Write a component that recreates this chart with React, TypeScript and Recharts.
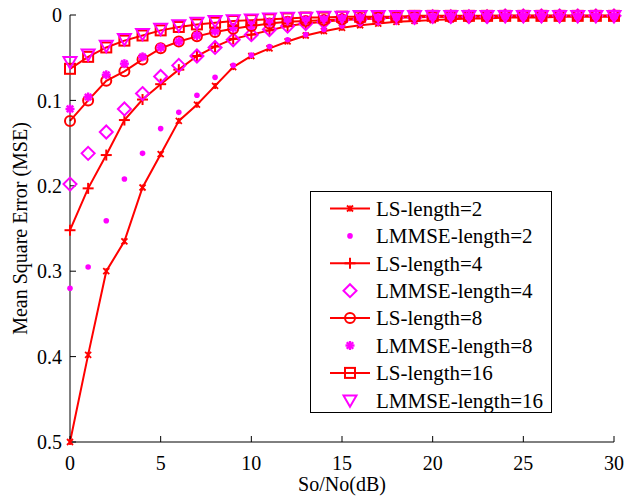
import { LineChart, Line, XAxis, YAxis, Legend } from 'recharts';

// SNR (dB)
const snr = [0, 1, 2, 3, 4, 5, 6, 7, 8, 9, 10, 11, 12, 13, 14, 15, 16, 17, 18, 19, 20, 21, 22, 23, 24, 25, 26, 27, 28, 29, 30];

const lsLen2 = [0.5, 0.398, 0.3, 0.265, 0.202, 0.163, 0.124, 0.105, 0.083, 0.061, 0.048, 0.039, 0.031, 0.024, 0.019, 0.015, 0.012, 0.01, 0.008, 0.007, 0.006, 0.005, 0.004, 0.004, 0.003, 0.003, 0.003, 0.002, 0.002, 0.002, 0.002];
const lmmseLen2 = [0.32, 0.295, 0.241, 0.192, 0.162, 0.133, 0.114, 0.094, 0.073, 0.059, 0.047, 0.037, 0.029, 0.023, 0.017, 0.013, 0.01, 0.008, 0.006, 0.005, 0.004, 0.004, 0.003, 0.003, 0.003, 0.002, 0.002, 0.002, 0.002, 0.002, 0.002];
const lsLen4 = [0.252, 0.203, 0.164, 0.123, 0.099, 0.081, 0.064, 0.048, 0.037, 0.028, 0.023, 0.018, 0.013, 0.01, 0.008, 0.006, 0.005, 0.004, 0.003, 0.003, 0.002, 0.002, 0.002, 0.002, 0.001, 0.001, 0.001, 0.001, 0.001, 0.001, 0.001];
const lmmseLen4 = [0.198, 0.162, 0.137, 0.11, 0.092, 0.072, 0.059, 0.048, 0.038, 0.029, 0.023, 0.017, 0.013, 0.01, 0.008, 0.006, 0.005, 0.004, 0.003, 0.003, 0.002, 0.002, 0.002, 0.002, 0.001, 0.001, 0.001, 0.001, 0.001, 0.001, 0.001];
const lsLen8 = [0.124, 0.1, 0.077, 0.066, 0.052, 0.039, 0.031, 0.025, 0.02, 0.016, 0.013, 0.01, 0.008, 0.007, 0.006, 0.005, 0.004, 0.003, 0.003, 0.002, 0.002, 0.002, 0.002, 0.001, 0.001, 0.001, 0.001, 0.001, 0.001, 0.001, 0.001];
const lmmseLen8 = [0.11, 0.096, 0.07, 0.057, 0.049, 0.038, 0.031, 0.024, 0.019, 0.015, 0.012, 0.009, 0.007, 0.006, 0.005, 0.004, 0.003, 0.003, 0.002, 0.002, 0.002, 0.001, 0.001, 0.001, 0.001, 0.001, 0.001, 0.001, 0.001, 0.001, 0.001];
const lsLen16 = [0.063, 0.049, 0.038, 0.03, 0.024, 0.018, 0.014, 0.011, 0.009, 0.007, 0.006, 0.005, 0.004, 0.003, 0.003, 0.002, 0.002, 0.002, 0.002, 0.001, 0.001, 0.001, 0.001, 0.001, 0.001, 0.001, 0.001, 0.001, 0.001, 0.001, 0.001];
const lmmseLen16 = [0.055, 0.046, 0.036, 0.028, 0.022, 0.016, 0.012, 0.009, 0.007, 0.006, 0.005, 0.004, 0.003, 0.003, 0.002, 0.002, 0.001, 0.001, 0.001, 0.001, 0.001, 0.001, 0.001, 0.001, 0.001, 0.001, 0.001, 0.001, 0.001, 0.001, 0.001];

const xTicks = [0, 5, 10, 15, 20, 25, 30];
const yTicks = [0, 0.1, 0.2, 0.3, 0.4, 0.5];

const RED = '#ff0000';
const MAGENTA = '#ff00ff';
const FONT = '"Liberation Serif", "Times New Roman", serif';

type MarkerKind = 'asterisk' | 'point' | 'plus' | 'diamond' | 'circle' | 'star' | 'square' | 'triangle';

interface SeriesDef {
  key: string;
  name: string;
  color: string;
  marker: MarkerKind;
  line: boolean;
}

const series: SeriesDef[] = [
  { key: 'ls2', name: 'LS-length=2', color: RED, marker: 'asterisk', line: true },
  { key: 'lmmse2', name: 'LMMSE-length=2', color: MAGENTA, marker: 'point', line: false },
  { key: 'ls4', name: 'LS-length=4', color: RED, marker: 'plus', line: true },
  { key: 'lmmse4', name: 'LMMSE-length=4', color: MAGENTA, marker: 'diamond', line: false },
  { key: 'ls8', name: 'LS-length=8', color: RED, marker: 'circle', line: true },
  { key: 'lmmse8', name: 'LMMSE-length=8', color: MAGENTA, marker: 'star', line: false },
  { key: 'ls16', name: 'LS-length=16', color: RED, marker: 'square', line: true },
  { key: 'lmmse16', name: 'LMMSE-length=16', color: MAGENTA, marker: 'triangle', line: false },
];

const data = snr.map((x, i) => ({
  x,
  ls2: lsLen2[i],
  lmmse2: lmmseLen2[i],
  ls4: lsLen4[i],
  lmmse4: lmmseLen4[i],
  ls8: lsLen8[i],
  lmmse8: lmmseLen8[i],
  ls16: lsLen16[i],
  lmmse16: lmmseLen16[i],
}));

function drawMarker(kind: MarkerKind, cx: number, cy: number, color: string) {
  const sw = 2;
  switch (kind) {
    case 'asterisk': {
      const s = 3;
      return (
        <g stroke={color} strokeWidth={1.8}>
          <line x1={cx - s} y1={cy - s} x2={cx + s} y2={cy + s} />
          <line x1={cx - s} y1={cy + s} x2={cx + s} y2={cy - s} />
          <line x1={cx} y1={cy - s} x2={cx} y2={cy + s} />
        </g>
      );
    }
    case 'point':
      return <circle cx={cx} cy={cy} r={2.8} fill={color} stroke="none" />;
    case 'plus': {
      const s = 5.5;
      return (
        <g stroke={color} strokeWidth={sw}>
          <line x1={cx - s} y1={cy} x2={cx + s} y2={cy} />
          <line x1={cx} y1={cy - s} x2={cx} y2={cy + s} />
        </g>
      );
    }
    case 'diamond': {
      const s = 6.5;
      return <polygon points={`${cx},${cy - s} ${cx + s},${cy} ${cx},${cy + s} ${cx - s},${cy}`} fill="none" stroke={color} strokeWidth={sw} />;
    }
    case 'circle':
      return <circle cx={cx} cy={cy} r={5} fill="none" stroke={color} strokeWidth={sw} />;
    case 'star': {
      const s = 4.5;
      const d = s * 0.72;
      return (
        <g stroke={color} strokeWidth={2.4}>
          <line x1={cx - s} y1={cy} x2={cx + s} y2={cy} />
          <line x1={cx} y1={cy - s} x2={cx} y2={cy + s} />
          <line x1={cx - d} y1={cy - d} x2={cx + d} y2={cy + d} />
          <line x1={cx - d} y1={cy + d} x2={cx + d} y2={cy - d} />
        </g>
      );
    }
    case 'square': {
      const s = 5;
      return <rect x={cx - s} y={cy - s} width={2 * s} height={2 * s} fill="none" stroke={color} strokeWidth={sw} />;
    }
    case 'triangle': {
      const s = 6.5;
      return <polygon points={`${cx - s},${cy - s * 0.75} ${cx + s},${cy - s * 0.75} ${cx},${cy + s}`} fill="none" stroke={color} strokeWidth={sw} />;
    }
  }
  return null;
}

const LegendBox = () => (
  <svg width={242} height={222} style={{ display: 'block' }}>
    <rect x={0.5} y={0.5} width={241} height={221} fill="#ffffff" stroke="#000000" strokeWidth={1} />
    {series.map((s, i) => {
      const cy = 17.5 + i * 27.4;
      return (
        <g key={s.key}>
          {s.line && <line x1={20} y1={cy} x2={60} y2={cy} stroke={s.color} strokeWidth={2} />}
          {drawMarker(s.marker, 40, cy, s.color)}
          <text x={66} y={cy} dy="0.35em" fontFamily={FONT} fontSize={21} fill="#000000">
            {s.name}
          </text>
        </g>
      );
    })}
  </svg>
);

export default function App() {
  const tickStyle = { fontFamily: FONT, fontSize: 20, fill: '#000000' };
  return (
    <div style={{ position: 'absolute', left: 0, top: 0, width: 626, height: 497, background: '#ffffff' }}>
      <LineChart width={626} height={497} data={data} margin={{ top: 15, right: 12, bottom: 25, left: 0 }}>
        <XAxis
          dataKey="x"
          type="number"
          domain={[0, 30]}
          ticks={xTicks}
          height={30}
          axisLine={{ stroke: '#000000', strokeWidth: 1 }}
          tickLine={{ stroke: '#000000' }}
          tickSize={-6}
          tickMargin={20}
          tick={tickStyle}
          label={{ value: 'So/No(dB)', position: 'bottom', offset: 5, style: { fontFamily: FONT, fontSize: 20, fill: '#000000' } }}
        />
        <XAxis
          xAxisId="top"
          orientation="top"
          type="number"
          domain={[0, 30]}
          ticks={xTicks}
          height={0}
          axisLine={{ stroke: '#000000', strokeWidth: 1 }}
          tickLine={{ stroke: '#000000' }}
          tickSize={-6}
          tick={false}
        />
        <YAxis
          type="number"
          reversed
          domain={[0, 0.5]}
          ticks={yTicks}
          width={70}
          axisLine={{ stroke: '#000000', strokeWidth: 1 }}
          tickLine={{ stroke: '#000000' }}
          tickSize={-6}
          tickMargin={14}
          tick={tickStyle}
          label={{
            value: 'Mean Square Error (MSE)',
            angle: -90,
            position: 'insideLeft',
            offset: 20,
            style: { fontFamily: FONT, fontSize: 20, fill: '#000000', textAnchor: 'middle' },
          }}
        />
        <YAxis
          yAxisId="right"
          orientation="right"
          type="number"
          reversed
          domain={[0, 0.5]}
          ticks={yTicks}
          width={0}
          axisLine={{ stroke: '#000000', strokeWidth: 1 }}
          tickLine={{ stroke: '#000000' }}
          tickSize={-6}
          tick={false}
        />
        {series.map((s) => (
          <Line
            key={s.key}
            dataKey={s.key}
            name={s.name}
            type="linear"
            stroke={s.line ? s.color : 'none'}
            strokeWidth={2}
            isAnimationActive={false}
            activeDot={false}
            dot={(p: any) => (
              <g key={`${s.key}-${p.index}`}>{drawMarker(s.marker, p.cx, p.cy, s.color)}</g>
            )}
          />
        ))}
        <Legend
          layout="horizontal"
          verticalAlign="middle"
          align="center"
          content={() => <LegendBox />}
          wrapperStyle={{ left: 310, top: 191, width: 242, height: 222, right: 'auto', bottom: 'auto' }}
        />
      </LineChart>
    </div>
  );
}
